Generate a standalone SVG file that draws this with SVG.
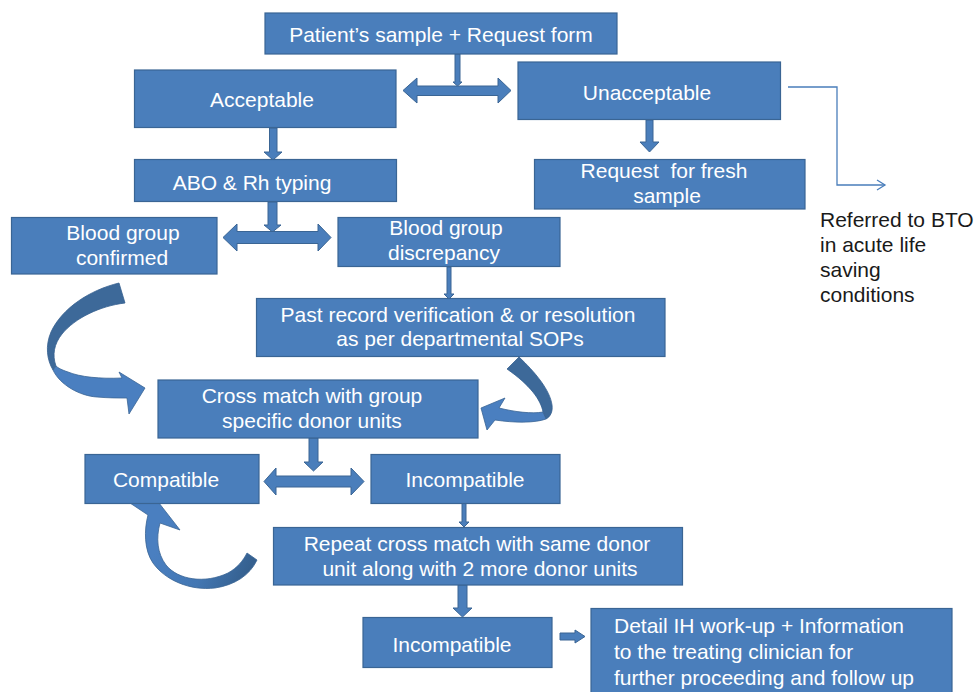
<svg xmlns="http://www.w3.org/2000/svg" width="977" height="692" viewBox="0 0 977 692">
<defs>
<style>
.box{fill:#4a7ebb;stroke:#3a6594;stroke-width:1.2}
.t{font-family:"Liberation Sans",Arial,sans-serif;font-size:21px;fill:#ffffff;text-anchor:middle}
.tl{font-family:"Liberation Sans",Arial,sans-serif;font-size:21px;fill:#ffffff}
.plain{font-family:"Liberation Sans",Arial,sans-serif;font-size:21px;fill:#1a1a1a}
.arr{fill:#4a7ebb;stroke:#3a6594;stroke-width:1}
.dark{fill:#3d6999;stroke:#35608f;stroke-width:0.8}
.light{fill:#4a7fc0;stroke:#3a6594;stroke-width:0.8}
.thin{fill:none;stroke:#4a7ebb;stroke-width:1.3}
</style>
<linearGradient id="g3" gradientUnits="userSpaceOnUse" x1="160" y1="540" x2="245" y2="578">
<stop offset="0" stop-color="#4a7fc0"/>
<stop offset="0.55" stop-color="#4377b3"/>
<stop offset="1" stop-color="#35608f"/>
</linearGradient>
</defs>

<g id="connectors">
<path class="arr" d="M455,54 L460,54 L460,82 L462,82 L457.5,86 L453,82 L455,82 Z"/>
<path class="arr" d="M403,90.5 L417,78 L417,86 L498,86 L498,78 L511,90.5 L498,103 L498,95.5 L417,95.5 L417,103 Z"/>
<path class="arr" d="M646,120 L653,120 L653,142 L659,142 L649.5,152 L640,142 L646,142 Z"/>
<polyline class="thin" points="788,87 837,87 837,185 885,185"/>
<polyline class="thin" points="877,180 885,185 877,190"/>
<path class="arr" d="M269.5,128 L277,128 L277,152 L282,152 L273,160 L264,152 L269.5,152 Z"/>
<path class="arr" d="M268,202 L277,202 L277,225 L281,225 L272.5,232 L264,225 L268,225 Z"/>
<path class="arr" d="M223,237.5 L237,224 L237,231.5 L318,231.5 L318,224 L331,237.5 L318,251 L318,243.5 L237,243.5 L237,251 Z"/>
<path class="arr" d="M447,267 L451,267 L451,294 L454,294 L449,299 L444,294 L447,294 Z"/>
<path class="dark" d="M119,283 C90,290 62,308 51,332 C45,346 47,360 53,370 L56,366 C52,355 54,344 62,334 C75,318 100,306 125,303 Z"/>
<path class="light" d="M53,370 C60,385 80,396 97,397 C108,398 118,398 127,398 L129,414 L145,388 L119,372 L122,378 C100,379 80,377 68,372 C62,370 58,368 56,366 Z"/>
<path class="dark" d="M507,369 L519,357 C535,372 550,390 552,405 C553,412 550,417 546,419 L543,412 C541,400 530,385 507,369 Z"/>
<path class="light" d="M546,419 C535,423 515,423 495,420 L487,430 L481,408 L505,398 L499,408 C515,412 532,414 543,412 Z"/>
<path class="arr" d="M309,438 L318,438 L318,462 L323,462 L313.5,471 L304,462 L309,462 Z"/>
<path class="arr" d="M264,481.5 L276,468 L276,476 L351,476 L351,468 L364,481.5 L351,495 L351,487 L276,487 L276,495 Z"/>
<path class="arr" d="M462,503 L466,503 L466,522 L469,522 L464,527 L459,522 L462,522 Z"/>
<path fill="url(#g3)" stroke="#3a6594" stroke-width="0.8" d="M152,494 L180,530 L160,523 C156,538 157,553 166,565 C178,580 205,584 228,573 C237,568 243,561 247,553 L257,560 C250,575 235,585 215,588 C190,591 165,580 153,563 C144,550 144,530 148,515 L130,503 Z"/>
<path class="arr" d="M458,585 L467,585 L467,608 L472,608 L462.5,617 L453,608 L458,608 Z"/>
<path class="arr" d="M560,633 L575,633 L575,630 L585,636.5 L575,643 L575,640 L560,640 Z"/>
</g>

<g id="n1"><rect class="box" x="265" y="13" width="352" height="41"/><text class="t" x="441" y="42">Patient’s sample + Request form</text></g>
<g id="n2"><rect class="box" x="134.5" y="70" width="261.5" height="57.5"/><text class="t" x="262" y="106.5">Acceptable</text></g>
<g id="n3"><rect class="box" x="518" y="62" width="262.5" height="57.5"/><text class="t" x="647" y="100">Unacceptable</text></g>
<g id="n4"><rect class="box" x="534.5" y="159.5" width="270.5" height="49.5"/><text class="t" x="664" y="178" xml:space="preserve">Request  for fresh</text><text class="t" x="667" y="203">sample</text></g>
<g id="n5"><rect class="box" x="134.5" y="159.5" width="262" height="42"/><text class="t" x="252" y="190">ABO &amp; Rh typing</text></g>
<g id="n6"><rect class="box" x="11.5" y="217.5" width="205.5" height="56.5"/><text class="t" x="123" y="240">Blood group</text><text class="t" x="122" y="265">confirmed</text></g>
<g id="n7"><rect class="box" x="338" y="217.5" width="222" height="49"/><text class="t" x="446" y="235">Blood group</text><text class="t" x="444" y="260">discrepancy</text></g>
<g id="n8"><rect class="box" x="256.5" y="298.5" width="408.5" height="58"/><text class="t" x="458" y="321.5">Past record verification &amp; or resolution</text><text class="t" x="460" y="346">as per departmental SOPs</text></g>
<g id="n9"><rect class="box" x="158" y="380" width="320" height="58"/><text class="t" x="312" y="403">Cross match with group</text><text class="t" x="312" y="428">specific donor units</text></g>
<g id="n10"><rect class="box" x="85" y="454.5" width="174" height="49"/><text class="t" x="166" y="487">Compatible</text></g>
<g id="n11"><rect class="box" x="371" y="454.5" width="189" height="49"/><text class="t" x="465" y="487">Incompatible</text></g>
<g id="n12"><rect class="box" x="273.5" y="527.5" width="409" height="57.5"/><text class="t" x="477" y="551">Repeat cross match with same donor</text><text class="t" x="480" y="576">unit along with 2 more donor units</text></g>
<g id="n13"><rect class="box" x="363" y="617.5" width="189" height="50"/><text class="t" x="452" y="651.5">Incompatible</text></g>
<g id="n14"><rect class="box" x="591" y="608.5" width="361" height="90"/><text class="tl" x="614" y="633">Detail IH work-up + Information</text><text class="tl" x="614" y="659">to the treating clinician for</text><text class="tl" x="614" y="684.5">further proceeding and follow up</text></g>
<g id="n15"><text class="plain" x="820" y="226.5">Referred to BTO</text><text class="plain" x="820" y="252">in acute life</text><text class="plain" x="820" y="277">saving</text><text class="plain" x="820" y="302">conditions</text></g>
</svg>
